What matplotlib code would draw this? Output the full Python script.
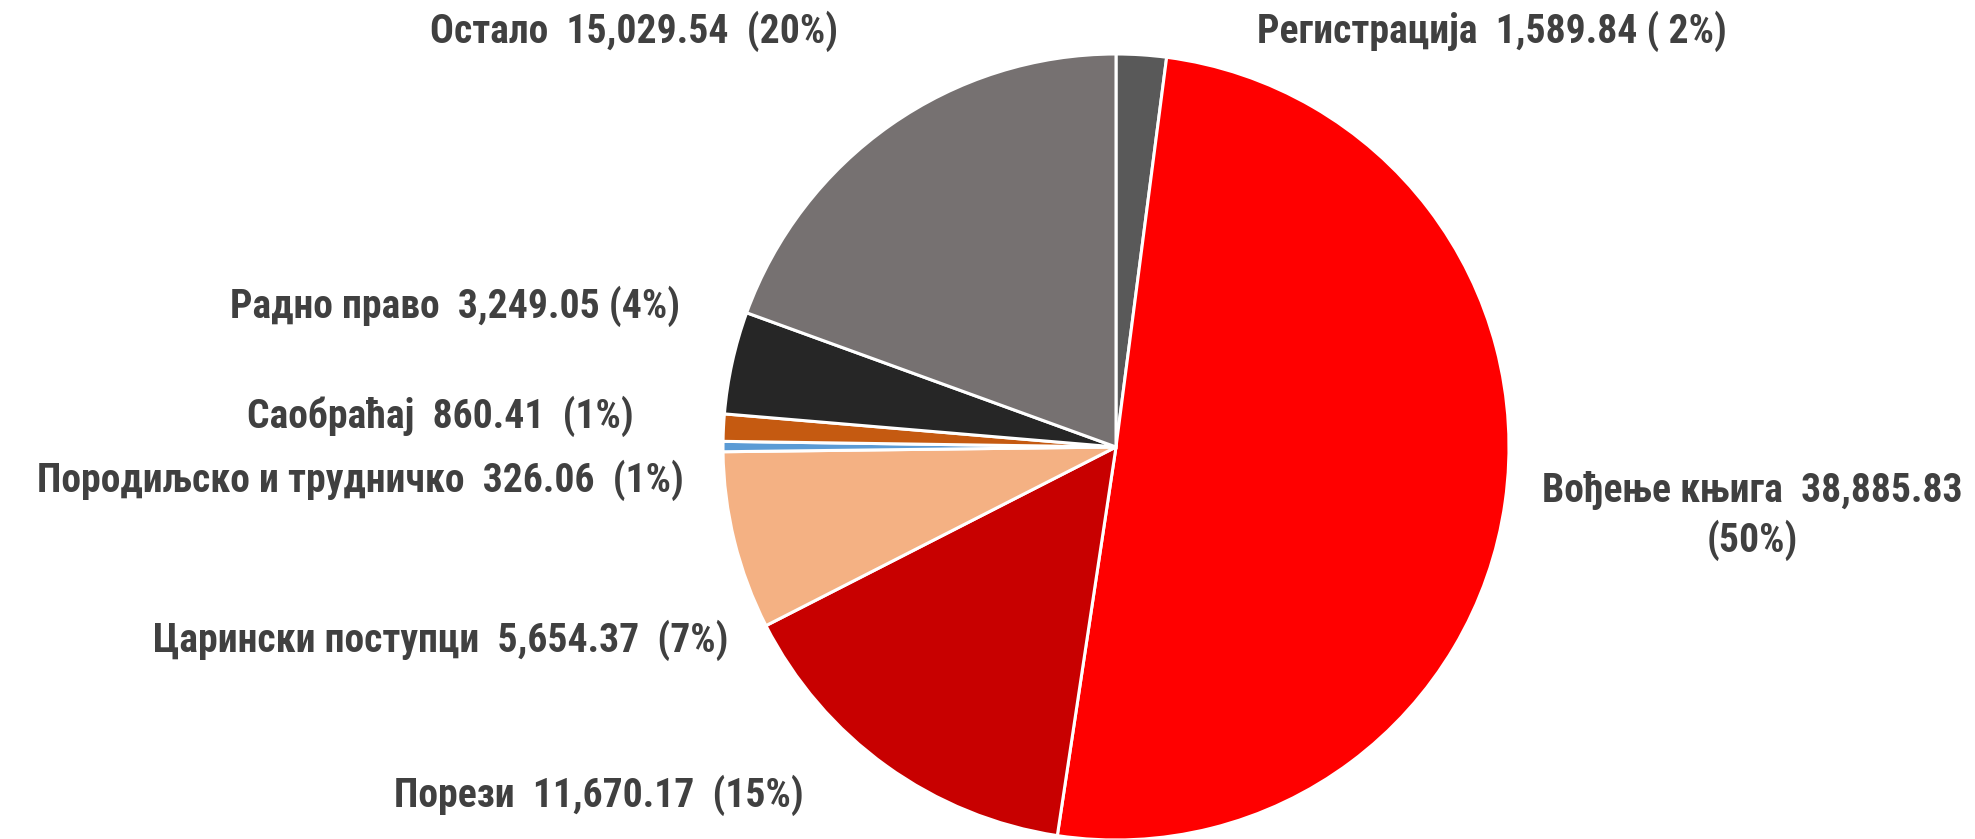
import matplotlib.pyplot as plt
from matplotlib import font_manager

# data (clockwise from 12 o'clock)
names = ['Регистрација', 'Вођење књига', 'Порези', 'Царински поступци',
         'Породиљско и трудничко', 'Саобраћај', 'Радно право', 'Остало']
values = [1589.84, 38885.83, 11670.17, 5654.37, 326.06, 860.41, 3249.05, 15029.54]
pcts = [' 2', '50', '15', '7', '1', '1', '4', '20']

colors = ['#595959', '#FF0000', '#C80000', '#F4B183',
          '#5B9BD5', '#C55A11', '#262626', '#767171']

fams = [f.name for f in font_manager.fontManager.ttflist]
narrow = [f for f in ['Liberation Sans Narrow', 'Roboto Condensed'] if f in fams]
plt.rcParams['font.family'] = narrow + ['Liberation Sans', 'DejaVu Sans']

W, H = 1975, 839
fig = plt.figure(figsize=(W / 100, H / 100), dpi=100)
ax = fig.add_axes([0, 0, 1, 1])

ax.pie(values, colors=colors, startangle=90, counterclock=False,
       center=(1116, H - 447), radius=393, frame=True,
       wedgeprops=dict(edgecolor='white', linewidth=2.2))
ax.set_xlim(0, W)
ax.set_ylim(0, H)
ax.set_aspect('equal')
ax.axis('off')

fmts = ['{n}  {v} ({p}%)', '{n}  {v}\n({p}%)', '{n}  {v}  ({p}%)', '{n}  {v}  ({p}%)',
        '{n}  {v}  ({p}%)', '{n}  {v}  ({p}%)', '{n}  {v} ({p}%)', '{n}  {v}  ({p}%)']
# label anchor (x, y from top, ha)
pos = [(1257, 31, 'left'), (1752, 516, 'center'), (804, 795, 'right'),
       (728, 640, 'right'), (684, 480, 'right'), (634, 416, 'right'),
       (680, 306, 'right'), (838, 31, 'right')]

for n, v, p, f, (x, y, ha) in zip(names, values, pcts, fmts, pos):
    ax.text(x, H - y, f.format(n=n, v=f'{v:,.2f}', p=p), ha=ha, va='center',
            multialignment='center', fontsize=28.5, fontweight='bold',
            color='#404040', linespacing=1.3)

fig.savefig('out.png', dpi=100)
